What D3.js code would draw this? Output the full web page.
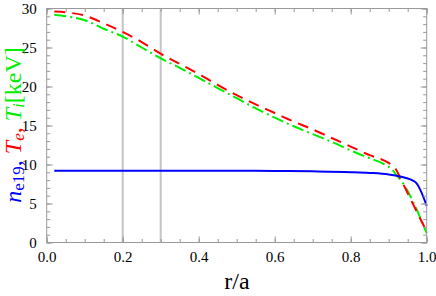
<!DOCTYPE html>
<html><head><meta charset="utf-8">
<script src="https://cdn.jsdelivr.net/npm/d3@7"></script>
<style>body{margin:0;background:#fff}svg{display:block}
svg text{font-family:"Liberation Serif","Liberation Sans",sans-serif !important}</style>
</head><body>
<script>
const neX = [0.02,0.1,0.2,0.3,0.4,0.5,0.6,0.7,0.8,0.85,0.9,0.93,0.97,1.0];
const neY = [9.2,9.2,9.2,9.2,9.2,9.19,9.17,9.12,9.02,8.92,8.72,8.45,7.75,4.7];
const teX = [0.02,0.05,0.1,0.15,0.2,0.25,0.3,0.35,0.4,0.45,0.5,0.55,0.6,0.65,0.7,0.75,0.8,0.85,0.9,0.91,0.92,0.93,1.0];
const teY = [29.6,29.5,29.1,28.1,27.0,25.7,24.2,22.9,21.6,20.2,18.9,17.7,16.6,15.5,14.5,13.4,12.3,11.2,10.2,9.85,9.3,8.3,1.4];
const tiX = [0.02,0.05,0.1,0.15,0.2,0.25,0.3,0.35,0.4,0.45,0.5,0.55,0.6,0.65,0.7,0.75,0.8,0.85,0.89,0.91,0.92,0.93,1.0];
const tiY = [29.2,29.0,28.5,27.4,26.4,25.0,23.6,22.4,21.1,19.8,18.5,17.2,16.0,14.9,13.9,12.9,11.8,10.8,10.0,9.3,8.65,8.1,1.2];
const vLines = [0.2,0.3];
const xMajor = [0,0.2,0.4,0.6,0.8,1.0];
const yMajor = [0,5,10,15,20,25,30];

const W=436,H=296, L=46.7, R=426.7, T=8.5, B=242.5;
const svg=d3.select("body").append("svg").attr("width",W).attr("height",H);
const x=d3.scaleLinear().domain([0,1]).range([L,R]);
const y=d3.scaleLinear().domain([0,30]).range([B,T]);

svg.selectAll("line.v").data(vLines).enter().append("line")
  .attr("x1",d=>x(d)).attr("x2",d=>x(d)).attr("y1",T).attr("y2",B)
  .attr("stroke","#c4c4c4").attr("stroke-width",2);

const line=(xs,ys)=>d3.line().x((d,i)=>x(xs[i])).y((d,i)=>y(ys[i])).curve(d3.curveMonotoneX)(xs);
svg.append("path").attr("d",line(tiX,tiY)).attr("fill","none").attr("stroke","#00ee00")
  .attr("stroke-width",2).attr("stroke-dasharray","12,4,2,4");
svg.append("path").attr("d",line(teX,teY)).attr("fill","none").attr("stroke","#ff0000")
  .attr("stroke-width",2).attr("stroke-dasharray","11,7");
svg.append("path").attr("d",line(neX,neY)).attr("fill","none").attr("stroke","#0000ff")
  .attr("stroke-width",2);

const frameC="#999";
const minorX=d3.range(0,1.0001,0.05).map(v=>+v.toFixed(2));
const minorY=d3.range(0,31,1);
function style(g){g.select(".domain").remove();g.selectAll("line").attr("stroke",frameC);
  g.selectAll("text").attr("font-size",15).attr("fill","#000");}
svg.append("g").attr("transform",`translate(0,${B})`).call(d3.axisBottom(x).tickValues(minorX).tickSize(-3.5).tickFormat("")).call(style);
svg.append("g").attr("transform",`translate(0,${B})`).call(d3.axisBottom(x).tickValues(xMajor).tickSize(-6).tickPadding(9).tickFormat(d3.format(".1f"))).call(style);
svg.append("g").attr("transform",`translate(0,${T})`).call(d3.axisTop(x).tickValues(minorX).tickSize(-3.5).tickFormat("")).call(style);
svg.append("g").attr("transform",`translate(0,${T})`).call(d3.axisTop(x).tickValues(xMajor).tickSize(-6).tickFormat("")).call(style);
svg.append("g").attr("transform",`translate(${L},0)`).call(d3.axisLeft(y).tickValues(minorY).tickSize(-3.5).tickFormat("")).call(style);
svg.append("g").attr("transform",`translate(${L},0)`).call(d3.axisLeft(y).tickValues(yMajor).tickSize(-6).tickPadding(10).tickFormat(d3.format("d"))).call(style);
svg.append("g").attr("transform",`translate(${R},0)`).call(d3.axisRight(y).tickValues(minorY).tickSize(-3.5).tickFormat("")).call(style);
svg.append("g").attr("transform",`translate(${R},0)`).call(d3.axisRight(y).tickValues(yMajor).tickSize(-6).tickFormat("")).call(style);
svg.append("rect").attr("x",L).attr("y",T).attr("width",R-L).attr("height",B-T)
  .attr("fill","none").attr("stroke",frameC).attr("stroke-width",1);

svg.append("text").attr("x",237).attr("y",289).attr("text-anchor","middle")
  .attr("font-size",24).text("r/a");

const yl=svg.append("text").attr("transform","translate(21,125) rotate(-90)")
  .attr("text-anchor","middle").attr("font-size",24);
const parts=[
  {t:"n",c:"#0000ff",i:true},{t:"e19",c:"#0000ff",s:true},{t:", ",c:"#0000ff"},
  {t:"T",c:"#ff0000",i:true},{t:"e",c:"#ff0000",i:true,s:true},{t:", ",c:"#ff0000"},
  {t:"T",c:"#00ee00",i:true},{t:"i",c:"#00ee00",i:true,s:true},{t:"[keV]",c:"#00ee00"}];
let prevSub=false;
parts.forEach(p=>{
  const ts=yl.append("tspan").text(p.t).attr("fill",p.c);
  if(p.i) ts.attr("font-style","italic");
  if(p.s){ts.attr("font-size",17).attr("dy",prevSub?0:3);}
  else if(prevSub){ts.attr("dy",-3);}
  prevSub=!!p.s;
});
</script>
</body></html>
